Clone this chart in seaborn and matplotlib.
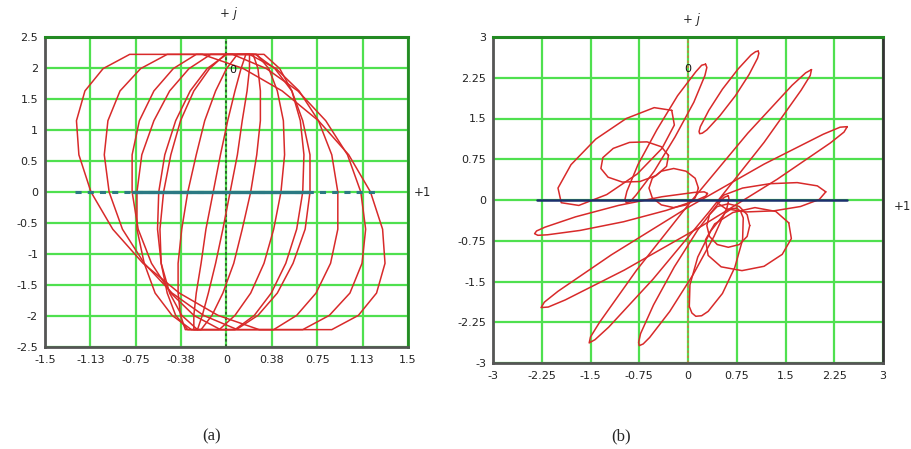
import matplotlib
matplotlib.use("Agg")
import matplotlib.pyplot as plt
import seaborn as sns

# ---------------- data: panel (a) ----------------
A_XTICKS = [-1.5, -1.125, -0.75, -0.375, 0, 0.375, 0.75, 1.125, 1.5]
A_XLABELS = ["-1.5", "-1.13", "-0.75", "-0.38", "0", "0.38", "0.75", "1.13", "1.5"]
A_YTICKS = [-2.5, -2, -1.5, -1, -0.5, 0, 0.5, 1, 1.5, 2, 2.5]
A_YLABELS = ["-2.5", "-2", "-1.5", "-1", "-0.5", "0", "0.5", "1", "1.5", "2", "2.5"]

# shared vertical coordinate of every loop of (a) (flat-topped at +/-2.22)
A_Y = [0, 0.60, 1.15, 1.63, 1.99, 2.22, 2.22, 2.22, 1.99, 1.63, 1.15, 0.60,
       0, -0.60, -1.15, -1.63, -1.99, -2.22, -2.22, -2.22, -1.99, -1.63, -1.15, -0.60]
A_X1 = [1.19, 1.01, 0.76, 0.46, 0.14, -0.20, -0.52, -0.80, -1.02, -1.17, -1.24, -1.22,
        -1.12, -0.94, -0.69, -0.39, -0.07, 0.27, 0.59, 0.87, 1.09, 1.24, 1.31, 1.29]
A_X2 = [1.11, 1.00, 0.82, 0.59, 0.33, 0.05, -0.23, -0.49, -0.71, -0.88, -0.98, -1.01,
        -0.97, -0.86, -0.68, -0.45, -0.19, 0.09, 0.37, 0.63, 0.85, 1.02, 1.12, 1.15]
A_X3 = [0.92, 0.87, 0.76, 0.60, 0.41, 0.19, -0.03, -0.25, -0.44, -0.60, -0.72, -0.78,
        -0.78, -0.73, -0.62, -0.46, -0.27, -0.05, 0.17, 0.39, 0.58, 0.74, 0.86, 0.92]
A_X4 = [0.69, 0.69, 0.63, 0.54, 0.40, 0.24, 0.06, -0.13, -0.31, -0.47, -0.60, -0.70,
        -0.74, -0.74, -0.68, -0.59, -0.45, -0.29, -0.10, 0.08, 0.26, 0.42, 0.55, 0.65]
A_X5 = [0.63, 0.64, 0.61, 0.54, 0.44, 0.31, 0.16, 0.00, -0.16, -0.30, -0.42, -0.51,
        -0.56, -0.57, -0.54, -0.47, -0.37, -0.24, -0.09, 0.07, 0.23, 0.37, 0.49, 0.58]
A_X6 = [0.45, 0.48, 0.47, 0.42, 0.35, 0.25, 0.13, -0.01, -0.14, -0.27, -0.38, -0.46,
        -0.52, -0.55, -0.54, -0.49, -0.42, -0.32, -0.20, -0.06, 0.07, 0.20, 0.31, 0.39]
A_X7 = [0.20, 0.25, 0.28, 0.28, 0.26, 0.22, 0.16, 0.09, 0.00, -0.09, -0.18, -0.25,
        -0.32, -0.37, -0.40, -0.40, -0.38, -0.34, -0.28, -0.21, -0.12, -0.03, 0.06, 0.13]
A_X8 = [0.03, 0.09, 0.13, 0.17, 0.19, 0.19, 0.18, 0.16, 0.12, 0.07, 0.01, -0.05,
        -0.11, -0.17, -0.21, -0.25, -0.27, -0.27, -0.26, -0.24, -0.20, -0.15, -0.09, -0.03]
A_AXIS_X = [-1.25, 1.25]
A_AXIS_SOLID_X = [-0.77, 0.69]

# ---------------- data: panel (b) ----------------
B_TICKS = [-3, -2.25, -1.5, -0.75, 0, 0.75, 1.5, 2.25, 3]
B_LABELS = ["-3", "-2.25", "-1.5", "-0.75", "0", "0.75", "1.5", "2.25", "3"]

B_P1_X = [0.27, 0.21, 0.12, -0.16, -0.48, -0.77, -0.94, -0.97, -0.95, -0.89, -0.80, -0.52, -0.20, 0.09, 0.26, 0.29]
B_P1_Y = [2.50, 2.48, 2.36, 1.92, 1.29, 0.65, 0.16, 0.01, -0.05, -0.03, 0.09, 0.53, 1.16, 1.80, 2.29, 2.44]
B_P2_X = [1.08, 1.04, 0.97, 0.77, 0.53, 0.32, 0.19, 0.17, 0.18, 0.22, 0.29, 0.49, 0.73, 0.94, 1.07, 1.09]
B_P2_Y = [2.74, 2.73, 2.67, 2.41, 2.04, 1.65, 1.35, 1.26, 1.22, 1.23, 1.29, 1.55, 1.92, 2.31, 2.61, 2.70]
B_P3_X = [1.90, 1.81, 1.60, 0.92, 0.05, -0.79, -1.36, -1.50, -1.52, -1.43, -1.22, -0.54, 0.33, 1.17, 1.74, 1.88]
B_P3_Y = [2.40, 2.34, 2.11, 1.23, -0.02, -1.29, -2.25, -2.52, -2.63, -2.57, -2.34, -1.46, -0.21, 1.06, 2.02, 2.29]
B_P4_X = [2.45, 2.34, 2.08, 1.17, -0.02, -1.18, -2.00, -2.21, -2.26, -2.15, -1.89, -0.98, 0.21, 1.37, 2.19, 2.40]
B_P4_Y = [1.35, 1.34, 1.21, 0.66, -0.15, -1.01, -1.68, -1.88, -1.98, -1.97, -1.84, -1.29, -0.48, 0.38, 1.05, 1.25]
B_P5_X = [0.62, 0.56, 0.46, 0.15, -0.21, -0.53, -0.73, -0.76, -0.75, -0.69, -0.59, -0.28, 0.08, 0.40, 0.60, 0.63]
B_P5_Y = [0.08, 0.05, -0.07, -0.55, -1.23, -1.93, -2.46, -2.62, -2.68, -2.65, -2.53, -2.05, -1.37, -0.67, -0.14, 0.02]
B_P6_X = [0.75, 0.67, 0.57, 0.35, 0.15, 0.03, 0.02, 0.06, 0.12, 0.21, 0.31, 0.53, 0.72, 0.84, 0.85, 0.81]
B_P6_Y = [-0.15, -0.16, -0.24, -0.57, -1.05, -1.56, -1.96, -2.08, -2.14, -2.13, -2.05, -1.72, -1.24, -0.73, -0.33, -0.21]
B_P7_X = [0.30, 0.25, 0.10, -0.40, -1.07, -1.73, -2.20, -2.33, -2.36, -2.31, -2.16, -1.66, -0.99, -0.33, 0.14, 0.27]
B_P7_Y = [0.12, 0.15, 0.14, 0.06, -0.10, -0.31, -0.50, -0.57, -0.62, -0.65, -0.64, -0.56, -0.40, -0.19, 0.00, 0.07]
B_L1_X = [-0.25, -0.52, -0.95, -1.42, -1.80, -2.00, -1.95, -1.68, -1.25, -0.78, -0.40, -0.21]
B_L1_Y = [1.65, 1.70, 1.50, 1.12, 0.65, 0.22, -0.05, -0.10, 0.10, 0.48, 0.95, 1.38]
B_L2_X = [-0.30, -0.41, -0.63, -0.90, -1.15, -1.31, -1.34, -1.23, -1.01, -0.74, -0.49, -0.33]
B_L2_Y = [0.82, 0.98, 1.07, 1.06, 0.95, 0.78, 0.58, 0.42, 0.33, 0.34, 0.45, 0.62]
B_L3_X = [1.55, 1.35, 1.03, 0.69, 0.41, 0.27, 0.31, 0.51, 0.83, 1.17, 1.45, 1.59]
B_L3_Y = [-0.42, -0.21, -0.14, -0.23, -0.44, -0.73, -1.02, -1.23, -1.30, -1.22, -1.00, -0.71]
B_L4_X = [2.12, 1.99, 1.68, 1.26, 0.84, 0.55, 0.45, 0.58, 0.89, 1.32, 1.73, 2.02]
B_L4_Y = [0.15, 0.26, 0.32, 0.30, 0.22, 0.09, -0.05, -0.16, -0.22, -0.20, -0.12, 0.01]
B_L5_X = [0.16, 0.11, -0.03, -0.22, -0.41, -0.55, -0.60, -0.55, -0.41, -0.22, -0.03, 0.11]
B_L5_Y = [0.22, 0.40, 0.53, 0.58, 0.53, 0.40, 0.22, 0.04, -0.09, -0.14, -0.09, 0.04]
B_L6_X = [0.95, 0.91, 0.79, 0.62, 0.45, 0.33, 0.29, 0.33, 0.45, 0.62, 0.79, 0.91]
B_L6_Y = [-0.47, -0.27, -0.12, -0.07, -0.12, -0.27, -0.47, -0.67, -0.82, -0.87, -0.82, -0.67]
B_AXIS_X = [-2.32, 2.45]

# ---------------- styling ----------------
sns.set_style("white")
plt.rcParams["font.family"] = ["DejaVu Sans"]

RED = "#d82a2a"
GRID = "#4fe04f"

fig = plt.figure(figsize=(9.12, 4.49), dpi=100)
W, H = 912.0, 449.0
ax_a = fig.add_axes([45 / W, 1 - 347 / H, 363 / W, 310 / H])
ax_b = fig.add_axes([493 / W, 1 - 363 / H, 390 / W, 326 / H])


def closed(v):
    return list(v) + [v[0]]


def loop(ax, xs, ys):
    sns.lineplot(x=closed(xs), y=closed(ys), ax=ax, sort=False, estimator=None,
                 color=RED, lw=1.1, legend=False, zorder=3)


def frame(ax, xt, xl, yt, yl, lim_x, lim_y, right_col):
    ax.set_xlim(*lim_x)
    ax.set_ylim(*lim_y)
    ax.set_xticks(xt)
    ax.set_xticklabels(xl)
    ax.set_yticks(yt)
    ax.set_yticklabels(yl)
    ax.tick_params(length=0, labelsize=8, colors="#222222")
    ax.tick_params(axis="x", pad=6)
    ax.tick_params(axis="y", pad=5)
    ax.grid(True, color=GRID, lw=1.6)
    ax.set_axisbelow(True)
    ax.set_xlabel("")
    ax.set_ylabel("")
    ax.spines["top"].set_color("#238a23")
    ax.spines["top"].set_linewidth(2.2)
    ax.spines["right"].set_color(right_col)
    ax.spines["right"].set_linewidth(2.0)
    for s in ("left", "bottom"):
        ax.spines[s].set_color("#555555")
        ax.spines[s].set_linewidth(2.0)


# ---------------- panel (a) ----------------
for xs in (A_X1, A_X2, A_X3, A_X4, A_X5, A_X6, A_X7, A_X8):
    loop(ax_a, xs, A_Y)
sns.lineplot(x=A_AXIS_X, y=[0, 0], ax=ax_a, color="#2b7a83", lw=2.2,
             linestyle=(0, (2, 2)), legend=False, zorder=4)
sns.lineplot(x=A_AXIS_SOLID_X, y=[0, 0], ax=ax_a, color="#2b7a83", lw=2.4,
             legend=False, zorder=4)
ax_a.axvline(0, color="#2a5e2a", lw=1.3, ls=(0, (1.5, 1.5)), zorder=2)
frame(ax_a, A_XTICKS, A_XLABELS, A_YTICKS, A_YLABELS, (-1.5, 1.5), (-2.5, 2.5), "#238a23")
ax_a.text(0.05, 1.97, "0", fontsize=8, color="#111111", ha="center", va="center", zorder=5)

# ---------------- panel (b) ----------------
for xs, ys in ((B_P1_X, B_P1_Y), (B_P2_X, B_P2_Y), (B_P3_X, B_P3_Y), (B_P4_X, B_P4_Y),
               (B_P5_X, B_P5_Y), (B_P6_X, B_P6_Y), (B_P7_X, B_P7_Y), (B_L1_X, B_L1_Y),
               (B_L2_X, B_L2_Y), (B_L3_X, B_L3_Y), (B_L4_X, B_L4_Y), (B_L5_X, B_L5_Y),
               (B_L6_X, B_L6_Y)):
    loop(ax_b, xs, ys)
sns.lineplot(x=B_AXIS_X, y=[0, 0], ax=ax_b, color="#1c2f6e", lw=1.8,
             legend=False, zorder=4)
ax_b.axvline(0, color="#c8823c", lw=1.2, ls=(0, (1.5, 1.5)), zorder=2)
frame(ax_b, B_TICKS, B_LABELS, B_TICKS, B_LABELS, (-3, 3), (-3, 3), "#333333")
ax_b.text(0.0, 2.42, "0", fontsize=8, color="#111111", ha="center", va="center", zorder=5)

# ---------------- annotations ----------------
fig.text(228 / W, 1 - 14 / H, "+ j", fontsize=8.5, style="italic", ha="center", va="center")
fig.text(691 / W, 1 - 20 / H, "+ j", fontsize=8.5, style="italic", ha="center", va="center")
fig.text(422 / W, 1 - 193 / H, "+1", fontsize=8.5, ha="center", va="center")
fig.text(902 / W, 1 - 207 / H, "+1", fontsize=8.5, ha="center", va="center")
fig.text(212 / W, 1 - 436 / H, "(a)", fontsize=12, family="Liberation Serif", ha="center", va="center")
fig.text(621 / W, 1 - 436 / H, "(b)", fontsize=12, family="Liberation Serif", ha="center", va="center")

fig.savefig("out.png", dpi=100)
